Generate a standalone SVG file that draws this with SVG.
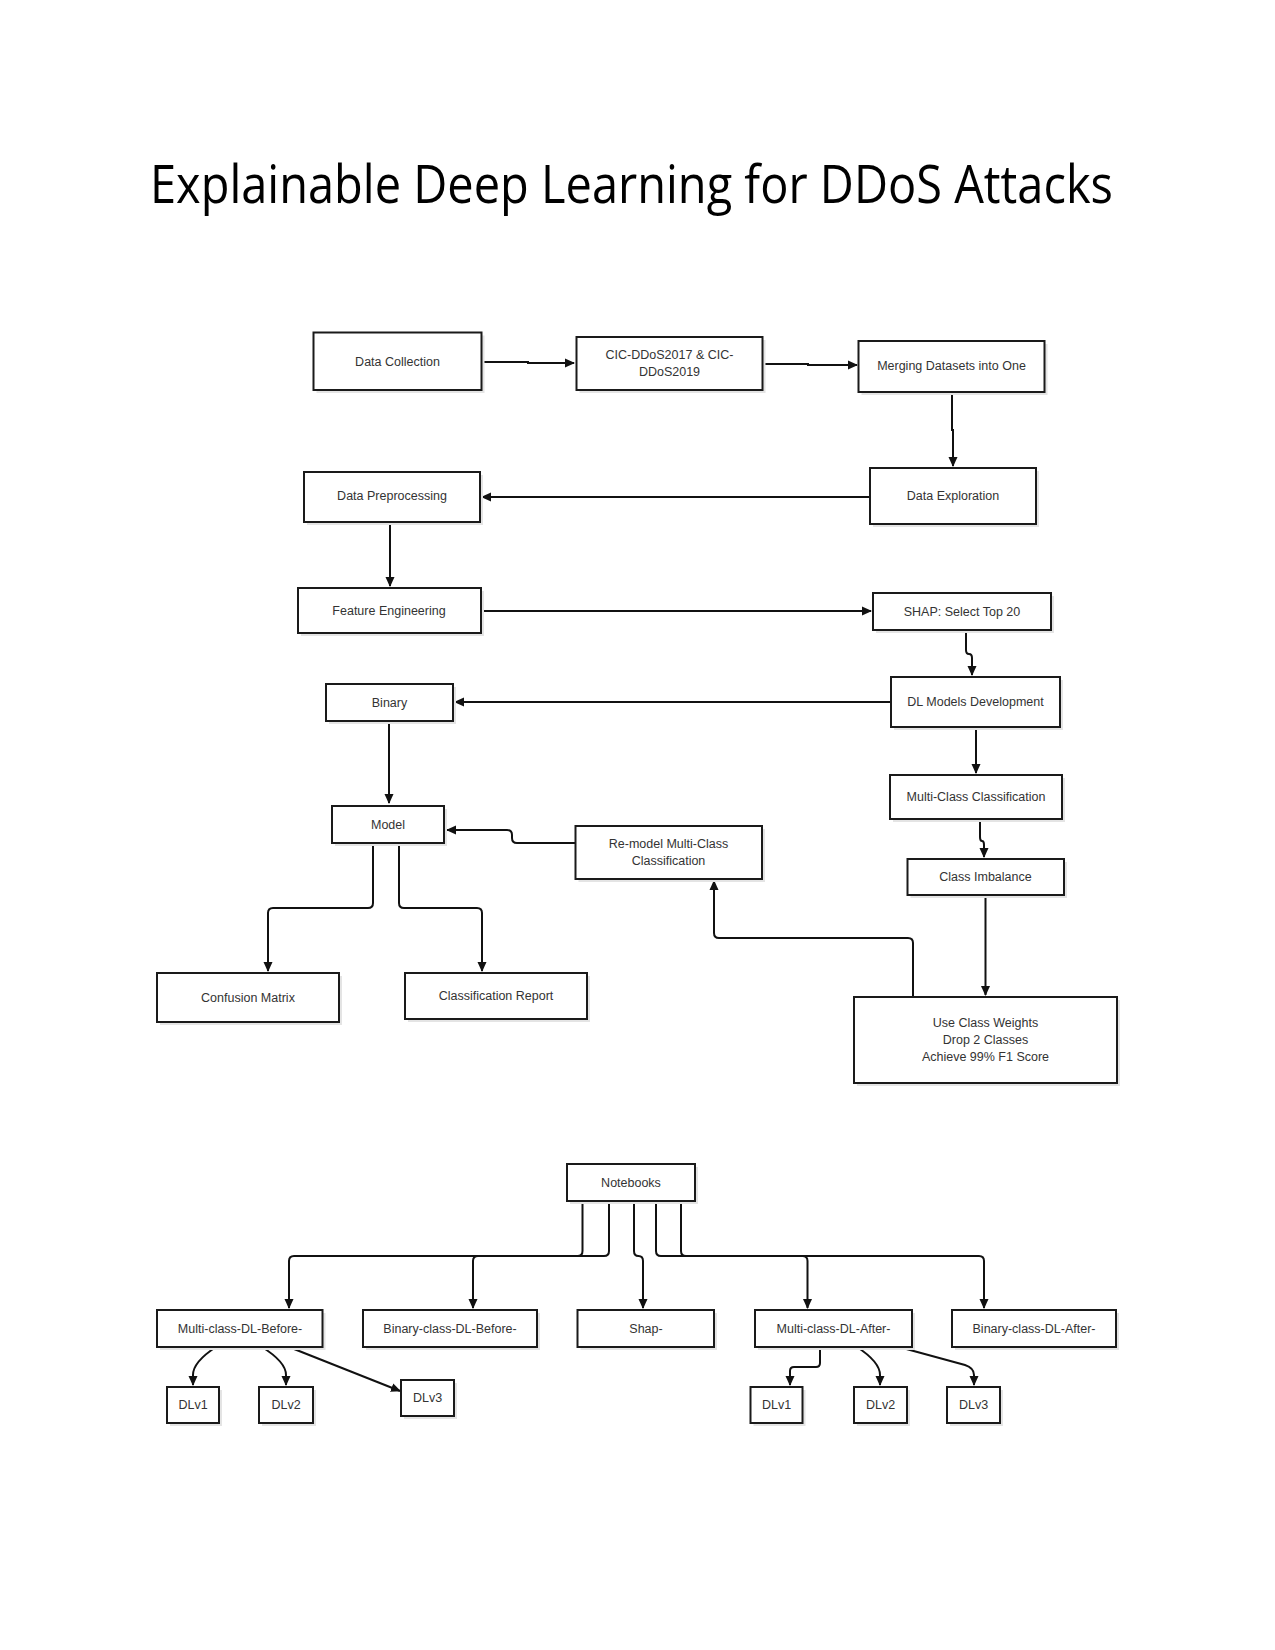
<svg xmlns="http://www.w3.org/2000/svg" width="1275" height="1650" viewBox="0 0 1275 1650">
<defs>
<style>
.bg{fill:#ffffff}
.sh{fill:#e4e4e4}
.box{fill:#ffffff;stroke:#1a1a1a;stroke-width:2}
.t{font-family:"Liberation Sans",Arial,sans-serif;font-size:12.5px;fill:#333333;text-anchor:middle;dominant-baseline:central}
.title{font-family:"Open Sans","Noto Sans",sans-serif;font-size:53px;fill:#000000}
.e{fill:none;stroke:#111111;stroke-width:2;marker-end:url(#ah)}
</style>
<marker id="ah" markerUnits="userSpaceOnUse" markerWidth="10" markerHeight="10" viewBox="0 0 10 10" refX="9" refY="5" orient="auto">
<path d="M0,0.5 L10,5 L0,9.5 Z" fill="#111111"/>
</marker>
</defs>
<rect class="bg" x="0" y="0" width="1275" height="1650"/>
<text class="title" x="150" y="203" textLength="963" lengthAdjust="spacingAndGlyphs">Explainable Deep Learning for DDoS Attacks</text>

<g id="connectors">
<path class="e" d="M482,362 H528 V363 H574"/>
<path class="e" d="M763,364 H808 V365 H857"/>
<path class="e" d="M952,392 V430 H953 V466"/>
<path class="e" d="M870,497 H482"/>
<path class="e" d="M390,522 V586"/>
<path class="e" d="M481,611 H871"/>
<path class="e" d="M966,630 V650 Q966,654 969,654 Q972,654 972,658 V675"/>
<path class="e" d="M891,702 H455"/>
<path class="e" d="M389,721 V803"/>
<path class="e" d="M976,727 V773"/>
<path class="e" d="M575.5,843 H517 Q512,843 512,838 V835 Q512,830 507,830 H447"/>
<path class="e" d="M980,819 V837 Q980,841 982,841 Q984,841 984,845 V857"/>
<path class="e" d="M985.5,895 V995"/>
<path class="e" d="M913,997 V943 Q913,938 908,938 H719 Q714,938 714,933 V881"/>
<path class="e" d="M373,843 V903 Q373,908 368,908 H273 Q268,908 268,913 V971"/>
<path class="e" d="M399,843 V903 Q399,908 404,908 H477 Q482,908 482,913 V971"/>
<path class="e" d="M582.5,1202 V1251 Q582.5,1256 577.5,1256 H294 Q289,1256 289,1261 V1308"/>
<path class="e" d="M609,1202 V1251 Q609,1256 604,1256 H478 Q473,1256 473,1261 V1308"/>
<path class="e" d="M634,1202 V1251 Q634,1256 638.5,1256 Q643,1256 643,1261 V1308"/>
<path class="e" d="M656,1202 V1251 Q656,1256 661,1256 H802.5 Q807.5,1256 807.5,1261 V1308"/>
<path class="e" d="M681,1202 V1251 Q681,1256 686,1256 H979 Q984,1256 984,1261 V1308"/>
<path class="e" d="M216,1347 Q193,1362 193,1375 V1385"/>
<path class="e" d="M262,1347 Q286,1362 286,1375 V1385"/>
<path class="e" d="M289,1347 L400,1391"/>
<path class="e" d="M820,1347 V1363 Q820,1367 816,1367 H794 Q790,1367 790,1371 V1385"/>
<path class="e" d="M857,1347 Q880,1362 880,1375 V1385"/>
<path class="e" d="M899,1347 L965,1365 Q974,1368 974,1375 V1385"/>
</g>

<g id="n-data-collection"><rect class="sh" x="316.5" y="335.5" width="168" height="57.5"/><rect class="box" x="313.5" y="332.5" width="168" height="57.5"/><text class="t" x="397.5" y="362">Data Collection</text></g>
<g id="n-cic"><rect class="sh" x="579.5" y="340" width="186" height="53"/><rect class="box" x="576.5" y="337" width="186" height="53"/><text class="t" x="669.5" y="355">CIC-DDoS2017 &amp; CIC-</text><text class="t" x="669.5" y="371.5">DDoS2019</text></g>
<g id="n-merging"><rect class="sh" x="861.5" y="344" width="186" height="51"/><rect class="box" x="858.5" y="341" width="186" height="51"/><text class="t" x="951.5" y="366">Merging Datasets into One</text></g>
<g id="n-data-exploration"><rect class="sh" x="873" y="471" width="166" height="56"/><rect class="box" x="870" y="468" width="166" height="56"/><text class="t" x="953" y="496">Data Exploration</text></g>
<g id="n-data-preprocessing"><rect class="sh" x="307" y="475" width="176" height="50"/><rect class="box" x="304" y="472" width="176" height="50"/><text class="t" x="392" y="496">Data Preprocessing</text></g>
<g id="n-feature-engineering"><rect class="sh" x="301" y="591" width="183" height="45"/><rect class="box" x="298" y="588" width="183" height="45"/><text class="t" x="389" y="611">Feature Engineering</text></g>
<g id="n-shap-select"><rect class="sh" x="876" y="596" width="178" height="37"/><rect class="box" x="873" y="593" width="178" height="37"/><text class="t" x="962" y="611.5">SHAP: Select Top 20</text></g>
<g id="n-dl-models"><rect class="sh" x="894" y="680" width="169" height="50"/><rect class="box" x="891" y="677" width="169" height="50"/><text class="t" x="975.5" y="702">DL Models Development</text></g>
<g id="n-binary"><rect class="sh" x="329" y="687" width="127" height="37"/><rect class="box" x="326" y="684" width="127" height="37"/><text class="t" x="389.5" y="702.5">Binary</text></g>
<g id="n-model"><rect class="sh" x="335" y="809" width="112" height="37"/><rect class="box" x="332" y="806" width="112" height="37"/><text class="t" x="388" y="824.5">Model</text></g>
<g id="n-remodel"><rect class="sh" x="578.5" y="829" width="186.5" height="53"/><rect class="box" x="575.5" y="826" width="186.5" height="53"/><text class="t" x="668.5" y="844">Re-model Multi-Class</text><text class="t" x="668.5" y="861">Classification</text></g>
<g id="n-multiclass"><rect class="sh" x="893" y="778" width="172" height="44"/><rect class="box" x="890" y="775" width="172" height="44"/><text class="t" x="976" y="797">Multi-Class Classification</text></g>
<g id="n-class-imbalance"><rect class="sh" x="910.5" y="862" width="156.5" height="36"/><rect class="box" x="907.5" y="859" width="156.5" height="36"/><text class="t" x="985.5" y="877">Class Imbalance</text></g>
<g id="n-confusion"><rect class="sh" x="160" y="976" width="182" height="49"/><rect class="box" x="157" y="973" width="182" height="49"/><text class="t" x="248" y="998">Confusion Matrix</text></g>
<g id="n-class-report"><rect class="sh" x="408" y="976" width="182" height="46"/><rect class="box" x="405" y="973" width="182" height="46"/><text class="t" x="496" y="996">Classification Report</text></g>
<g id="n-class-weights"><rect class="sh" x="857" y="1000" width="263" height="86"/><rect class="box" x="854" y="997" width="263" height="86"/><text class="t" x="985.5" y="1023">Use Class Weights</text><text class="t" x="985.5" y="1040">Drop 2 Classes</text><text class="t" x="985.5" y="1057">Achieve 99% F1 Score</text></g>

<g id="n-notebooks"><rect class="sh" x="570" y="1167" width="128" height="37"/><rect class="box" x="567" y="1164" width="128" height="37"/><text class="t" x="631" y="1183">Notebooks</text></g>
<g id="n-mc-before"><rect class="sh" x="160" y="1313" width="165.5" height="37"/><rect class="box" x="157" y="1310" width="165.5" height="37"/><text class="t" x="240" y="1328.5">Multi-class-DL-Before-</text></g>
<g id="n-bc-before"><rect class="sh" x="366" y="1313" width="174" height="37"/><rect class="box" x="363" y="1310" width="174" height="37"/><text class="t" x="450" y="1328.5">Binary-class-DL-Before-</text></g>
<g id="n-shap"><rect class="sh" x="580.5" y="1313" width="136.5" height="37"/><rect class="box" x="577.5" y="1310" width="136.5" height="37"/><text class="t" x="646" y="1328.5">Shap-</text></g>
<g id="n-mc-after"><rect class="sh" x="758" y="1313" width="157" height="37"/><rect class="box" x="755" y="1310" width="157" height="37"/><text class="t" x="833.5" y="1328.5">Multi-class-DL-After-</text></g>
<g id="n-bc-after"><rect class="sh" x="955" y="1313" width="164" height="37"/><rect class="box" x="952" y="1310" width="164" height="37"/><text class="t" x="1034" y="1328.5">Binary-class-DL-After-</text></g>

<g id="n-before-dlv1"><rect class="sh" x="170" y="1390" width="52" height="36"/><rect class="box" x="167" y="1387" width="52" height="36"/><text class="t" x="193" y="1405">DLv1</text></g>
<g id="n-before-dlv2"><rect class="sh" x="262" y="1390" width="54" height="36"/><rect class="box" x="259" y="1387" width="54" height="36"/><text class="t" x="286" y="1405">DLv2</text></g>
<g id="n-before-dlv3"><rect class="sh" x="404" y="1383" width="53" height="36"/><rect class="box" x="401" y="1380" width="53" height="36"/><text class="t" x="427.5" y="1398">DLv3</text></g>
<g id="n-after-dlv1"><rect class="sh" x="753.5" y="1390" width="52" height="36"/><rect class="box" x="750.5" y="1387" width="52" height="36"/><text class="t" x="776.5" y="1405">DLv1</text></g>
<g id="n-after-dlv2"><rect class="sh" x="857" y="1390" width="53" height="36"/><rect class="box" x="854" y="1387" width="53" height="36"/><text class="t" x="880.5" y="1405">DLv2</text></g>
<g id="n-after-dlv3"><rect class="sh" x="950" y="1390" width="53" height="36"/><rect class="box" x="947" y="1387" width="53" height="36"/><text class="t" x="973.5" y="1405">DLv3</text></g>
</svg>
